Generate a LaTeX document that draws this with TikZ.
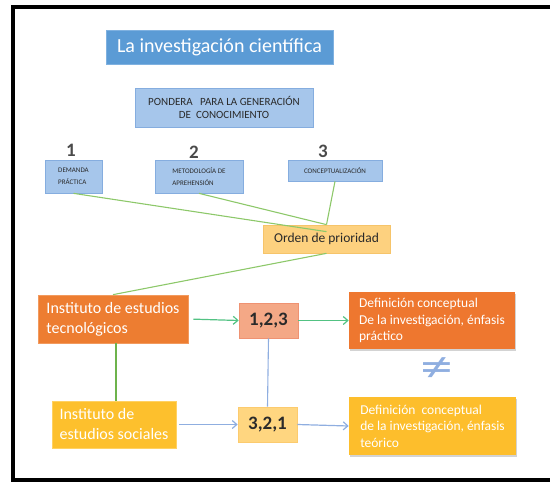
\documentclass[tikz,border=0pt]{standalone}
\usepackage{fontspec}
\setmainfont{Carlito}
\usetikzlibrary{positioning,calc,arrows.meta,shadows}
\definecolor{invBlueBg}{HTML}{5B9BD5}
\definecolor{invBlueLine}{HTML}{7FB1E0}
\definecolor{invSkyBg}{HTML}{A6C6EB}
\definecolor{invSkyLine}{HTML}{85ADDF}
\definecolor{invSandBg}{HTML}{FDD17F}
\definecolor{invSandLine}{HTML}{F6C46A}
\definecolor{invOrangeBg}{HTML}{ED7D31}
\definecolor{invOrangeLine}{HTML}{F29A5E}
\definecolor{invSalmonBg}{HTML}{F4A886}
\definecolor{invSalmonLine}{HTML}{EF9272}
\definecolor{invGoldBg}{HTML}{FDC02D}
\definecolor{invGoldLine}{HTML}{FFD163}
\definecolor{invPaleBg}{HTML}{FFD680}
\definecolor{invPaleLine}{HTML}{FCCB6E}
\definecolor{invGreenLine}{HTML}{8DC86A}
\definecolor{invMossLine}{HTML}{6DB34C}
\definecolor{invArrowGreen}{HTML}{52C283}
\definecolor{invArrowBlue}{HTML}{8FAEE0}
\definecolor{invInk}{HTML}{2A2A2A}
\tikzset{
  map box/.style={
    rectangle, inner sep=0pt, line width=0.7pt,
    align=center,
  },
  tiny box/.style={
    map box, fill=invSkyBg, draw=invSkyLine, text=invInk,
    font=\fontsize{7}{12}\selectfont,
  },
  inst box/.style={
    map box, align=left, text=white,
    font=\fontsize{16}{20}\selectfont,
  },
  order box/.style={
    map box, minimum width=59pt, minimum height=35pt,
    text=invInk, font=\fontsize{19}{20}\selectfont\bfseries,
  },
  def box/.style={
    map box, align=left, text=white, draw=none,
    minimum width=166pt, minimum height=57pt,
    font=\fontsize{13.5}{16.5}\selectfont,
    drop shadow={shadow xshift=1pt, shadow yshift=-1.5pt, opacity=0.35},
  },
  link line/.style={line width=1.1pt},
  flow arrow/.style={
    -{Straight Barb[length=4.5pt, width=8pt]},
    line width=1.2pt,
  },
}

\begin{document}
\begin{tikzpicture}[x=1pt, y=-1pt]
\useasboundingbox (0,0) rectangle (550,482);

% --- FRAME ---
\draw[line width=3.5pt] (552,7) -- (13,7) -- (13,480) -- (552,480);

% --- HEADER ---
\node[map box, fill=invBlueBg, draw=invBlueLine, text=white,
      minimum width=227pt, minimum height=34pt,
      font=\fontsize{20}{22}\selectfont]
  (title) at (219.5,47) {La investigación científica};
\node[map box, fill=invSkyBg, draw=invSkyLine, text=invInk,
      minimum width=178pt, minimum height=39pt,
      font=\fontsize{11}{13}\selectfont]
  (pondera) at (224,107.5) {PONDERA \ \ PARA LA GENERACIÓN\\DE \ CONOCIMIENTO};

% --- CRITERIA (number / box) ---
\def\criteria{%
  1/71/150/73.5/176.5/57/33/{DEMANDA\\PRÁCTICA}/left,%
  2/194/152/199/176.5/88/33/{METODOLOGÍA DE\\APREHENSIÓN}/left,%
  3/323/151/335/170.5/94/21/{CONCEPTUALIZACIÓN}/center%
}
\foreach \cidx/\nx/\ny/\bx/\by/\bw/\bh/\txt/\al in \criteria {
  \node[font=\fontsize{19}{20}\selectfont\bfseries, text=invInk!85]
    (num\cidx) at (\nx,\ny) {\cidx};
  \node[tiny box, minimum width=\bw pt, minimum height=\bh pt, align=\al]
    (crit\cidx) at (\bx,\by) {\txt};
}

\node[map box, fill=invSandBg, draw=invSandLine, text=invInk,
      minimum width=127pt, minimum height=28pt,
      font=\fontsize{13.5}{15}\selectfont]
  (orden) at (326.5,239) {Orden de prioridad};
\coordinate (ordenIn) at ([yshift=-7pt]orden.north);

\draw[link line, invGreenLine] (crit1.south) -- (ordenIn);
\draw[link line, invGreenLine] (crit2.south) -- (orden.north);
\draw[link line, invGreenLine] (crit3.south) -- (orden.north);

% --- INSTITUTES ---
\node[inst box, fill=invOrangeBg, draw=invOrangeLine,
      minimum width=150pt, minimum height=48pt]
  (tecno) at (113,319) {Instituto de estudios\\tecnológicos};
\node[inst box, fill=invGoldBg, draw=invGoldLine,
      minimum width=124pt, minimum height=47pt]
  (social) at (114,424.5) {Instituto de\\estudios sociales};

\node[order box, fill=invSalmonBg, draw=invSalmonLine]
  (ordA) at (268.5,320.5) {1,2,3};
\node[order box, fill=invPaleBg, draw=invPaleLine]
  (ordB) at (267.5,424.5) {3,2,1};

\node[def box, fill=invOrangeBg!95!red]
  (defA) at (432,320.5)
  {Definición conceptual\\De la investigación, énfasis\\práctico};
\node[def box, fill=invGoldBg!97!orange, minimum width=167pt, minimum height=58pt]
  (defB) at (432.5,426)
  {Definición \ conceptual\\de la investigación, énfasis\\teórico};

\node[text=invArrowBlue, font=\fontsize{44}{44}\selectfont, inner sep=0pt,
      xscale=1.5]
  (neq) at (437,370) {≠};

% --- CONNECTORS ---
\draw[link line, invGreenLine] (orden.south) -- (tecno.north);
\draw[link line, invMossLine] ([xshift=3pt]tecno.south) -- ([xshift=2pt]social.north);
\draw[link line, invArrowBlue] (ordA.south) -- (ordB.north);

\draw[flow arrow, invArrowGreen, shorten <=5pt] (tecno.east) -- (ordA.west);
\draw[flow arrow, invArrowGreen] (ordA.east) -- (defA.west);
\draw[flow arrow, invArrowBlue, shorten <=3pt] (social.east) -- (ordB.west);
\draw[flow arrow, invArrowBlue] (ordB.east) -- (defB.west);

\end{tikzpicture}
\end{document}
